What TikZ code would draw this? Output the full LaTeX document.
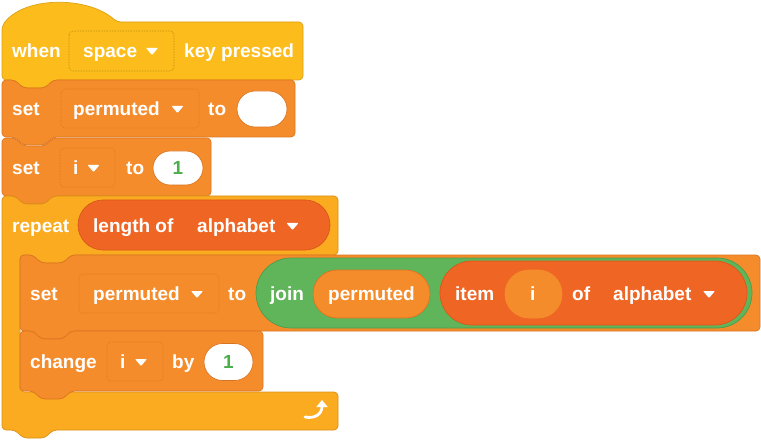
\documentclass[tikz,border=0pt]{standalone}
\usepackage{fontspec}
\setmainfont{Liberation Sans}
\usetikzlibrary{shapes.misc,arrows.meta}
\definecolor{evcol}{HTML}{FCBC1B}
\definecolor{evline}{HTML}{DDA216}
\definecolor{varcol}{HTML}{F58C2B}
\definecolor{varline}{HTML}{DB7420}
\definecolor{ctlcol}{HTML}{FAAB20}
\definecolor{ctlline}{HTML}{D99019}
\definecolor{lstcol}{HTML}{EF6624}
\definecolor{lstline}{HTML}{DA561B}
\definecolor{opcol}{HTML}{60B55B}
\definecolor{opline}{HTML}{4E9C4A}
\definecolor{numcol}{HTML}{4DAE4D}
\def\wtext{\node[anchor=base west,text=white,inner sep=0pt,font=\fontsize{19}{20}\selectfont\bfseries]}
\def\numtext{\node[anchor=base,text=numcol,inner sep=0pt,font=\fontsize{19}{20}\selectfont\bfseries]}
\def\reporter{\node[rounded rectangle,inner sep=0pt,line width=0.7pt]}
\def\dropbox{\draw[rounded corners=4pt,densely dotted,line width=0.6pt]}
\def\caret#1#2{\fill[white,rounded corners=0.8pt] ({#1-6},{#2-3}) -- ({#1+6},{#2-3}) -- (#1,{#2+4}) -- cycle;}
% stack block: fill, line, x1, y1, x2, y2
\def\stackblock#1#2#3#4#5#6{\draw[fill=#1,draw=#2,line width=0.7pt,rounded corners=4pt]
  (#3,#4) -- ({#3+13},#4) -- ({#3+21},{#4+8}) -- ({#3+43},{#4+8}) -- ({#3+51},#4) -- (#5,#4)
  -- (#5,#6) -- ({#3+51},#6) -- ({#3+43},{#6+8}) -- ({#3+21},{#6+8}) -- ({#3+13},#6) -- (#3,#6) -- cycle;}

\begin{document}
\begin{tikzpicture}[x=1pt,y=-1pt,line join=round]
\useasboundingbox (0,0) rectangle (761,441);
% when key pressed
\draw[fill=evcol,draw=evline,line width=0.7pt,rounded corners=4pt] (2,80) -- (2,26) .. controls (24,-4) and (88,-4) .. (117,22) -- (303,22) -- (303,80) -- (53,80) -- (45,88) -- (23,88) -- (15,80) -- cycle;
\dropbox[fill=evcol,draw=evline!80!black] (69,31) rectangle (174,71);
\wtext (when) at (12,57.5) {when};
\wtext (spacekey) at (83,57.5) {space};
\caret{152}{51}
\wtext (keypressed) at (184,57.5) {key pressed};
% set permuted to ""
\stackblock{varcol}{varline}{2}{80}{295}{137}
\dropbox[fill=varcol,draw=varline] (61,89) rectangle (199,128);
\wtext (set1) at (12,115.5) {set};
\wtext (permvar1) at (73,115.5) {permuted};
\caret{177.5}{109}
\wtext (to1) at (208,115.5) {to};
\reporter[fill=white,draw=varline,minimum width=50pt,minimum height=36pt] (empty) at (262,109) {};
% set i to 1
\stackblock{varcol}{varline}{2}{138}{211}{196}
\dropbox[fill=varcol,draw=varline] (60,148) rectangle (115,187);
\wtext (set2) at (12,174.5) {set};
\wtext (ivar1) at (73,174.5) {i};
\caret{93.5}{168}
\wtext (to2) at (126,174.5) {to};
\reporter[fill=white,draw=varline,minimum width=50pt,minimum height=34pt] (one1) at (178,168) {};
\numtext (onetxt1) at (178,174.5) {1};
% repeat
\draw[fill=ctlcol,draw=ctlline,line width=0.7pt,rounded corners=4pt]
  (2,196) -- (15,196) -- (23,204) -- (45,204) -- (53,196) -- (338,196) -- (338,255)
  -- (71,255) -- (63,263) -- (41,263) -- (33,255) -- (20,255) -- (20,392) -- (338,392)
  -- (338,430) -- (53,430) -- (45,438) -- (23,438) -- (15,430) -- (2,430) -- cycle;
\wtext (repeat) at (12,232.5) {repeat};
\reporter[fill=lstcol,draw=lstline,minimum width=252pt,minimum height=50pt] (lenof) at (204,225) {};
\wtext (lengthof) at (93,232.5) {length of};
\wtext (alpha1) at (197,232.5) {alphabet};
\caret{292.5}{226}
\draw[white,line width=2.8pt,line cap=round,-{Triangle[length=7pt,width=11pt]}] (305,417) .. controls (315,419) and (322,414) .. (322,400);
% set permuted to join
\stackblock{varcol}{varline}{20}{255}{760}{331}
\dropbox[fill=varcol,draw=varline] (79,274) rectangle (219,313);
\wtext (set3) at (30,300.5) {set};
\wtext (permvar2) at (93,300.5) {permuted};
\caret{197}{294}
\wtext (to3) at (228,300.5) {to};
\reporter[fill=opcol,draw=opline,minimum width=496pt,minimum height=70pt] (join) at (504,293) {};
\wtext (jointxt) at (270,300.5) {join};
\reporter[fill=varcol,draw=varline,minimum width=117pt,minimum height=48pt] (permrep) at (371.5,294) {};
\wtext (permtxt) at (328,300.5) {permuted};
\reporter[fill=lstcol,draw=lstline,minimum width=307pt,minimum height=64pt] (item) at (593.5,293) {};
\wtext (itemtxt) at (455,300.5) {item};
\reporter[fill=varcol,draw=varcol,minimum width=57pt,minimum height=48pt] (irep) at (533.5,294) {};
\wtext (itxt) at (530,300.5) {i};
\wtext (oftxt) at (572,300.5) {of};
\wtext (alpha2) at (613,300.5) {alphabet};
\caret{709}{294}
% change i by 1
\stackblock{varcol}{varline}{20}{331}{263}{391}
\dropbox[fill=varcol,draw=varline] (107,342) rectangle (163,381);
\wtext (change) at (30,368.5) {change};
\wtext (ivar2) at (120,368.5) {i};
\caret{141}{362}
\wtext (by) at (172,368.5) {by};
\reporter[fill=white,draw=varline,minimum width=49pt,minimum height=37pt] (one2) at (228.5,362) {};
\numtext (onetxt2) at (228.5,368.5) {1};
\end{tikzpicture}
\end{document}
